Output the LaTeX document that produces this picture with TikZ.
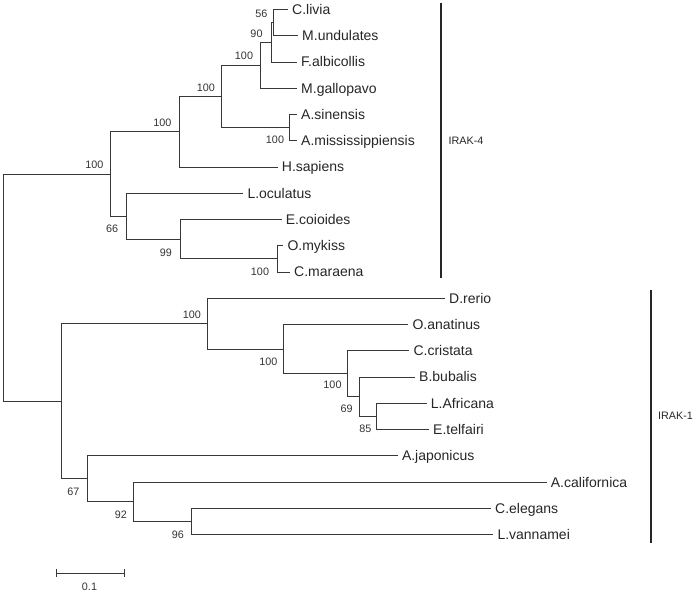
\documentclass[tikz,border=0pt]{standalone}
\usepackage{fontspec}
\setmainfont{Liberation Sans}
\begin{document}
\begin{tikzpicture}[x=1pt,y=-1pt,
  br/.style={draw=black!78, line width=0.9pt},
  taxon/.style={anchor=base west, inner sep=0pt, font=\fontsize{14}{16}\selectfont, text=black!85},
  boot/.style={anchor=center, inner sep=0pt, font=\fontsize{10.8}{12}\selectfont, text=black!80},
  cladebar/.style={line width=2pt, draw=black!85},
  cladelab/.style={anchor=center, inner sep=0pt, font=\fontsize{10.8}{12}\selectfont, text=black!85}]
\useasboundingbox (0,0) rectangle (697,596);
% leaf tips
\coordinate (t0) at (288,9.5);
\coordinate (t1) at (298,35.75);
\coordinate (t2) at (297,62);
\coordinate (t3) at (297,88.25);
\coordinate (t4) at (297,114.5);
\coordinate (t5) at (297,140.75);
\coordinate (t6) at (277.7,167);
\coordinate (t7) at (243.3,193.25);
\coordinate (t8) at (281.7,219.5);
\coordinate (t9) at (283.3,245.75);
\coordinate (t10) at (290,272);
\coordinate (t11) at (445,298.25);
\coordinate (t12) at (408.3,324.5);
\coordinate (t13) at (409.3,350.75);
\coordinate (t14) at (415,377);
\coordinate (t15) at (426.7,403.25);
\coordinate (t16) at (429,429.5);
\coordinate (t17) at (397.8,455.75);
\coordinate (t18) at (546.7,482);
\coordinate (t19) at (491,508.25);
\coordinate (t20) at (493.3,534.5);
% internal nodes
\coordinate (n56) at (273.3,22.63);
\coordinate (n90) at (271,42.31);
\coordinate (n100a) at (260,65.28);
\coordinate (nAs) at (289.3,127.63);
\coordinate (n100b) at (221.7,96.45);
\coordinate (n100c) at (179,131.73);
\coordinate (nOm) at (277.3,258.88);
\coordinate (n99) at (180,239.19);
\coordinate (n66) at (126,216.22);
\coordinate (n100d) at (110,173.97);
\coordinate (n85) at (376.7,416.38);
\coordinate (n69) at (359.3,396.69);
\coordinate (n100e) at (347.3,373.72);
\coordinate (n100f) at (283.3,349.11);
\coordinate (n100g) at (207.3,323.68);
\coordinate (n96) at (191,521.38);
\coordinate (n92) at (133.3,501.69);
\coordinate (n67) at (87.6,478.72);
\coordinate (nI1) at (61.7,401.2);
\coordinate (root) at (3.3,287.59);
% branches
\draw[br] (root) |- (n100d);
\draw[br] (root) |- (nI1);
\draw[br] (n100d) |- (n100c);
\draw[br] (n100d) |- (n66);
\draw[br] (n100c) |- (n100b);
\draw[br] (n100c) |- (t6);
\draw[br] (n100b) |- (n100a);
\draw[br] (n100b) |- (nAs);
\draw[br] (n100a) |- (n90);
\draw[br] (n100a) |- (t3);
\draw[br] (n90) |- (n56);
\draw[br] (n90) |- (t2);
\draw[br] (n56) |- (t0);
\draw[br] (n56) |- (t1);
\draw[br] (nAs) |- (t4);
\draw[br] (nAs) |- (t5);
\draw[br] (n66) |- (t7);
\draw[br] (n66) |- (n99);
\draw[br] (n99) |- (t8);
\draw[br] (n99) |- (nOm);
\draw[br] (nOm) |- (t9);
\draw[br] (nOm) |- (t10);
\draw[br] (nI1) |- (n100g);
\draw[br] (nI1) |- (n67);
\draw[br] (n100g) |- (t11);
\draw[br] (n100g) |- (n100f);
\draw[br] (n100f) |- (t12);
\draw[br] (n100f) |- (n100e);
\draw[br] (n100e) |- (t13);
\draw[br] (n100e) |- (n69);
\draw[br] (n69) |- (t14);
\draw[br] (n69) |- (n85);
\draw[br] (n85) |- (t15);
\draw[br] (n85) |- (t16);
\draw[br] (n67) |- (t17);
\draw[br] (n67) |- (n92);
\draw[br] (n92) |- (t18);
\draw[br] (n92) |- (n96);
\draw[br] (n96) |- (t19);
\draw[br] (n96) |- (t20);
% taxon labels
\node[taxon] (l0) at ([xshift=4pt,yshift=-5pt]t0) {C.livia};
\node[taxon] (l1) at ([xshift=4pt,yshift=-5pt]t1) {M.undulates};
\node[taxon] (l2) at ([xshift=4pt,yshift=-5pt]t2) {F.albicollis};
\node[taxon] (l3) at ([xshift=4pt,yshift=-5pt]t3) {M.gallopavo};
\node[taxon] (l4) at ([xshift=4pt,yshift=-5pt]t4) {A.sinensis};
\node[taxon] (l5) at ([xshift=4pt,yshift=-5pt]t5) {A.mississippiensis};
\node[taxon] (l6) at ([xshift=4pt,yshift=-5pt]t6) {H.sapiens};
\node[taxon] (l7) at ([xshift=4pt,yshift=-5pt]t7) {L.oculatus};
\node[taxon] (l8) at ([xshift=4pt,yshift=-5pt]t8) {E.coioides};
\node[taxon] (l9) at ([xshift=4pt,yshift=-5pt]t9) {O.mykiss};
\node[taxon] (l10) at ([xshift=4pt,yshift=-5pt]t10) {C.maraena};
\node[taxon] (l11) at ([xshift=4pt,yshift=-5pt]t11) {D.rerio};
\node[taxon] (l12) at ([xshift=4pt,yshift=-5pt]t12) {O.anatinus};
\node[taxon] (l13) at ([xshift=4pt,yshift=-5pt]t13) {C.cristata};
\node[taxon] (l14) at ([xshift=4pt,yshift=-5pt]t14) {B.bubalis};
\node[taxon] (l15) at ([xshift=4pt,yshift=-5pt]t15) {L.Africana};
\node[taxon] (l16) at ([xshift=4pt,yshift=-5pt]t16) {E.telfairi};
\node[taxon] (l17) at ([xshift=4pt,yshift=-5pt]t17) {A.japonicus};
\node[taxon] (l18) at ([xshift=4pt,yshift=-5pt]t18) {A.californica};
\node[taxon] (l19) at ([xshift=4pt,yshift=-5pt]t19) {C.elegans};
\node[taxon] (l20) at ([xshift=4pt,yshift=-5pt]t20) {L.vannamei};
% bootstrap values
\node[boot] (b56) at (261.5,13.3) {56};
\node[boot] (b90) at (256.5,33.5) {90};
\node[boot] (b100a) at (244,55.5) {100};
\node[boot] (b100b) at (205.8,87.3) {100};
\node[boot] (b100c) at (162.3,122.7) {100};
\node[boot] (bAs) at (275,140) {100};
\node[boot] (b100d) at (94.3,165) {100};
\node[boot] (b66) at (112.2,229) {66};
\node[boot] (b99) at (166,252.7) {99};
\node[boot] (bOm) at (260,271.7) {100};
\node[boot] (b100g) at (191.8,315) {100};
\node[boot] (b100f) at (268.3,361.5) {100};
\node[boot] (b100e) at (332.5,385) {100};
\node[boot] (b69) at (346.7,408.3) {69};
\node[boot] (b85) at (365.3,428.7) {85};
\node[boot] (b67) at (73.3,491.7) {67};
\node[boot] (b92) at (121,515) {92};
\node[boot] (b96) at (177.8,534.3) {96};
% clade bars
\coordinate (c4a) at (440.5,3);
\coordinate (c4b) at (440.5,278.5);
\draw[cladebar] (c4a) -- (c4b);
\node[cladelab] (irak4) at (466,141) {IRAK-4};
\coordinate (c1a) at (651,290.5);
\coordinate (c1b) at (651,542.5);
\draw[cladebar] (c1a) -- (c1b);
\node[cladelab] (irak1) at (675.5,416) {IRAK-1};
% scale bar
\coordinate (sb1) at (56.7,573);
\coordinate (sb2) at (124,573);
\draw[br] (sb1) -- (sb2);
\draw[br] ([yshift=4pt]sb1) -- ([yshift=-4pt]sb1);
\draw[br] ([yshift=4pt]sb2) -- ([yshift=-4pt]sb2);
\node[boot] (sblab) at (89.5,587) {0.1};
\end{tikzpicture}
\end{document}
